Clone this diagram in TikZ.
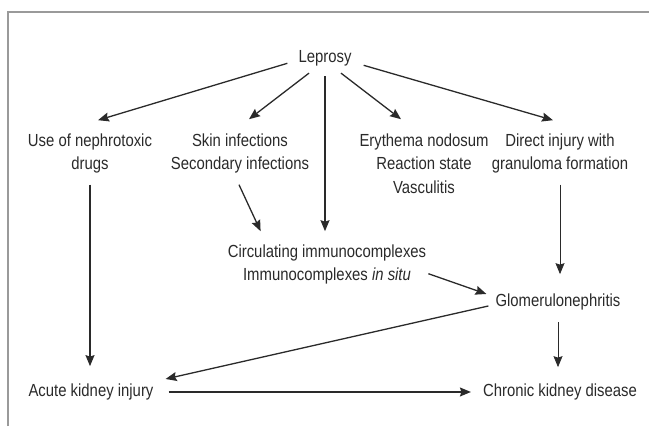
\documentclass[tikz,border=0pt]{standalone}
\usepackage{fontspec}
\setmainfont[FakeStretch=0.85]{Liberation Sans}
\usetikzlibrary{arrows.meta}
\definecolor{ink}{HTML}{2A2A2A}
\definecolor{framegray}{HTML}{9A9A9A}

\begin{document}
\begin{tikzpicture}[x=1bp, y=-1bp,
    every node/.style={inner sep=0pt, text=ink, align=center,
      font=\fontsize{17.5bp}{23.5bp}\selectfont},
    link/.style={draw=ink, line width=1.3bp,
      -{Stealth[length=11bp, width=9bp, inset=1.5bp]}},
    thinlink/.style={link, line width=0.8bp}]
    \useasboundingbox (0,0) rectangle (649,426);
    \draw[framegray, line width=1.4bp] (8,426) -- (8,12) -- (649,12);

    % causes
    \node[anchor=base] (leprosy) at (325,62) {Leprosy};
    \node[anchor=north] (drugs) at (90,133.2) {Use of nephrotoxic\\drugs};
    \node[anchor=north] (skin) at (240,133.2) {Skin infections\\Secondary infections};
    \node[anchor=north] (erythema) at (424,133.2) {Erythema nodosum\\Reaction state\\Vasculitis};
    \node[anchor=north] (injury) at (560,133.2) {Direct injury with\\granuloma formation};
    \node[anchor=north] (immuno) at (327,244.2) {Circulating immunocomplexes\\Immunocomplexes \textit{in situ}};
    % outcomes
    \node[anchor=base] (glomerulo) at (558,306) {Glomerulonephritis};
    \node[anchor=base] (aki) at (91,396) {Acute kidney injury};
    \node[anchor=base] (ckd) at (560,396) {Chronic kidney disease};

    \begin{scope}[link]
    \draw ([shift={(-11,5.5)}]leprosy.west) -- ([shift={(8,-13)}]drugs.north);
    \draw ([shift={(-16,7.3)}]leprosy.south) -- ([shift={(9,-14)}]skin.north);
    \draw ([shift={(0,10.3)}]leprosy.south) -- ([shift={(0,-13)}]leprosy.south |- immuno.north);
    \draw ([shift={(16,7.3)}]leprosy.south) -- ([shift={(-23,-14)}]erythema.north);
    \draw ([shift={(12,7.5)}]leprosy.east) -- ([shift={(-7,-13)}]injury.north);
    \draw ([shift={(0,11.3)}]drugs.south) -- ([shift={(0,-17)}]drugs.south |- aki.north);
    \draw ([shift={(-1,11.3)}]skin.south) -- ([shift={(33,-13)}]immuno.north west);
    \draw ([shift={(2,-10.7)}]immuno.south east) -- ([shift={(-9,-7.5)}]glomerulo.west);
    \draw ([shift={(-7,4.5)}]glomerulo.west) -- ([shift={(12,-12.5)}]aki.east);
    \draw ([shift={(15,0.5)}]aki.east) -- ([shift={(-12,0.5)}]ckd.west);
    \end{scope}
    \draw[thinlink] ([shift={(0,11.3)}]injury.south) -- ([shift={(0,-19)}]injury.south |- glomerulo.north);
    \draw[thinlink] ([shift={(0,12.3)}]glomerulo.south) -- ([shift={(0,-16)}]glomerulo.south |- ckd.north);
\end{tikzpicture}
\end{document}
